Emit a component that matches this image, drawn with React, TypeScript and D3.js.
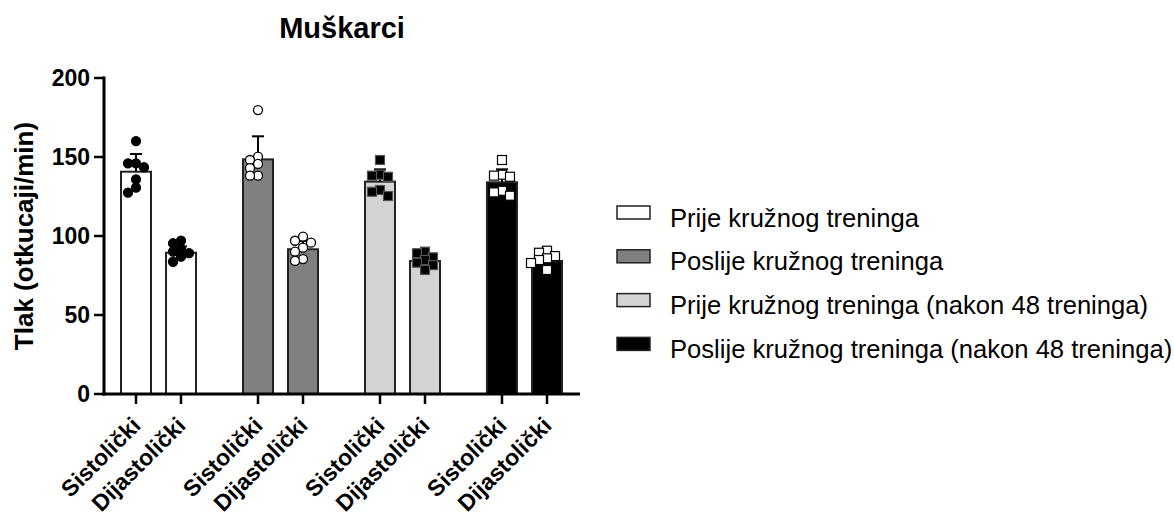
import React, { useEffect, useRef } from 'react';
import * as d3 from 'd3';

const categories = ["Sistolički", "Dijastolički"];
const groups = [
  "Prije kružnog treninga",
  "Poslije kružnog treninga",
  "Prije kružnog treninga (nakon 48 treninga)",
  "Poslije kružnog treninga (nakon 48 treninga)",
];
const groupFill = ["#ffffff", "#808080", "#d4d4d4", "#000000"];
const yTicks = [0, 50, 100, 150, 200];

// one entry per bar: group 0 sys, group 0 dia, group 1 sys, ...
const means = [140.7, 89.4, 148.5, 91.6, 134.4, 84.2, 134.0, 84.2];
const sds = [11.2, 4.0, 14.6, 5.2, 7.8, 3.8, 8.2, 4.0];
const points = [
  [160.1, 146, 146, 143.5, 135.9, 130.6, 127.4],
  [97, 95.4, 91.8, 90.1, 89.2, 86.9, 83.7],
  [179.7, 150.2, 148.1, 145.6, 142.9, 138.2, 138.2],
  [99.6, 97, 95.8, 92.6, 90.1, 85.4, 84.2],
  [148.1, 138.8, 138.2, 137.5, 129.1, 128, 125.3],
  [90.1, 89.1, 86.5, 84.8, 83.1, 81.6, 78.5],
  [148.1, 138.8, 138.2, 137.5, 128.6, 127.6, 125.5],
  [90.7, 89.4, 87.3, 85.9, 84.8, 82.9, 78.5],
];

const FONT = "'Liberation Sans', Arial, Helvetica, sans-serif";

const App: React.FC = () => {
  const svgRef = useRef<SVGSVGElement>(null);

  useEffect(() => {
    if (!svgRef.current) return;
    const svg = d3.select(svgRef.current);
    svg.selectAll("*").remove();

    const yScale = d3.scaleLinear().domain([0, 200]).range([394, 78]);
    // bar slot positions: pairs separated by a gap
    const slotPos = (i: number) => Math.floor(i / 2) * 2.71 + (i % 2);
    const xScale = d3.scaleLinear().domain([0, 9.13]).range([136, 547]);
    const barW = 30;
    const axisX = 104;

    // Title
    svg.append("text")
      .attr("x", 342)
      .attr("y", 38)
      .attr("text-anchor", "middle")
      .style("font-family", FONT)
      .style("font-weight", "bold")
      .style("font-size", "29px")
      .text("Muškarci");

    // Bars
    means.forEach((m, i) => {
      const g = Math.floor(i / 2);
      svg.append("rect")
        .attr("x", xScale(slotPos(i)) - barW / 2)
        .attr("y", yScale(m))
        .attr("width", barW)
        .attr("height", yScale(0) - yScale(m))
        .attr("fill", groupFill[g])
        .attr("stroke", "#222")
        .attr("stroke-width", 2);
    });

    // Error bars (upper only)
    means.forEach((m, i) => {
      const cx = xScale(slotPos(i));
      const top = yScale(m + sds[i]);
      svg.append("line")
        .attr("x1", cx).attr("x2", cx)
        .attr("y1", yScale(m)).attr("y2", top)
        .attr("stroke", "#000").attr("stroke-width", 2);
      svg.append("line")
        .attr("x1", cx - 6).attr("x2", cx + 6)
        .attr("y1", top).attr("y2", top)
        .attr("stroke", "#000").attr("stroke-width", 2);
    });

    // Scatter points, swarm-like placement
    const r = 4.5;
    const step = 8;
    const minDist = 7;
    points.forEach((vals, i) => {
      const g = Math.floor(i / 2);
      const cx = xScale(slotPos(i));
      const placed: { x: number; y: number }[] = [];
      const sorted = [...vals].sort((a, b) => b - a);
      sorted.forEach(v => {
        const py = yScale(v);
        const offsets = [0, -1, 1, -2, 2, -3, 3];
        let px = cx;
        for (const o of offsets) {
          const tx = cx + o * step;
          if (placed.every(p => Math.hypot(p.x - tx, p.y - py) >= minDist)) {
            px = tx;
            break;
          }
        }
        placed.push({ x: px, y: py });
      });
      placed.forEach(p => {
        if (g < 2) {
          svg.append("circle")
            .attr("cx", p.x).attr("cy", p.y).attr("r", r)
            .attr("fill", g === 0 ? "#000" : "#fff")
            .attr("stroke", "#000")
            .attr("stroke-width", 1.3);
        } else {
          svg.append("rect")
            .attr("x", p.x - r).attr("y", p.y - r)
            .attr("width", r * 2).attr("height", r * 2)
            .attr("fill", g === 2 ? "#000" : "#fff")
            .attr("stroke", g === 2 ? "#555" : "#000")
            .attr("stroke-width", 1.2);
        }
      });
    });

    // Y axis
    svg.append("line")
      .attr("x1", axisX).attr("x2", axisX)
      .attr("y1", yScale(200) - 1.5).attr("y2", yScale(0) + 1.5)
      .attr("stroke", "#000").attr("stroke-width", 3);
    yTicks.forEach(t => {
      svg.append("line")
        .attr("x1", axisX - 10).attr("x2", axisX)
        .attr("y1", yScale(t)).attr("y2", yScale(t))
        .attr("stroke", "#000").attr("stroke-width", 2.5);
      svg.append("text")
        .attr("x", axisX - 14)
        .attr("y", yScale(t))
        .attr("dy", "0.36em")
        .attr("text-anchor", "end")
        .style("font-family", FONT)
        .style("font-weight", "bold")
        .style("font-size", "23px")
        .text(String(t));
    });

    // X axis
    svg.append("line")
      .attr("x1", axisX - 1.5).attr("x2", 580)
      .attr("y1", yScale(0)).attr("y2", yScale(0))
      .attr("stroke", "#000").attr("stroke-width", 3);
    means.forEach((_, i) => {
      const cx = xScale(slotPos(i));
      svg.append("line")
        .attr("x1", cx).attr("x2", cx)
        .attr("y1", yScale(0)).attr("y2", yScale(0) + 10)
        .attr("stroke", "#000").attr("stroke-width", 2.5);
      svg.append("text")
        .attr("transform", `translate(${cx + 6},${yScale(0) + 33}) rotate(-45)`)
        .attr("text-anchor", "end")
        .style("font-family", FONT)
        .style("font-weight", "bold")
        .style("font-size", "23px")
        .text(categories[i % 2]);
    });

    // Y axis label
    svg.append("text")
      .attr("transform", `translate(33,${(yScale(0) + yScale(200)) / 2}) rotate(-90)`)
      .attr("text-anchor", "middle")
      .style("font-family", FONT)
      .style("font-weight", "bold")
      .style("font-size", "26px")
      .text("Tlak (otkucaji/min)");

    // Legend
    groups.forEach((name, i) => {
      const cy = 212.5 + i * 43.8;
      svg.append("rect")
        .attr("x", 617).attr("y", cy - 6.5)
        .attr("width", 33).attr("height", 13)
        .attr("fill", groupFill[i])
        .attr("stroke", "#222")
        .attr("stroke-width", 1.5);
      svg.append("text")
        .attr("x", 670)
        .attr("y", cy + 14)
        .style("font-family", FONT)
        .style("font-size", "25.6px")
        .text(name);
    });
  }, []);

  return (
    <div style={{ position: "absolute", left: 0, top: 0 }}>
      <svg ref={svgRef} width={1174} height={517} style={{ display: "block", background: "#fff" }}></svg>
    </div>
  );
};

export default App;
